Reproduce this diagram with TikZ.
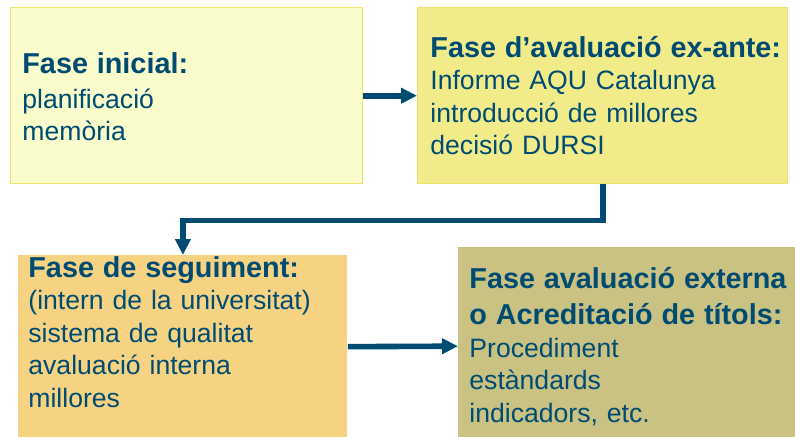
\documentclass[tikz,border=0pt]{standalone}
\usepackage{fontspec}
\setmainfont{Liberation Sans}
\usetikzlibrary{arrows.meta}

\definecolor{aqublue}{HTML}{004B72}
\definecolor{inifill}{HTML}{FAFCCC}
\definecolor{iniline}{HTML}{F0E46C}
\definecolor{exfill}{HTML}{F1EB8A}
\definecolor{exline}{HTML}{EEE06A}
\definecolor{segfill}{HTML}{F6D383}
\definecolor{extfill}{HTML}{C9C282}

\newcommand{\fasetitle}[1]{{\fontsize{14.4}{16.3}\selectfont\bfseries #1}}

\begin{document}
\begin{tikzpicture}[x=0.5pt,y=-0.5pt,
  phase/.style={rectangle, anchor=north west, inner sep=0pt},
  phasetext/.style={anchor=base west, inner sep=0pt, text width=190pt, align=left,
    text=aqublue, font=\fontsize{13.3}{16.3}\selectfont},
  flow/.style={draw=aqublue, line width=2.8pt, -{Triangle[length=8pt,width=7.5pt]}}]

\useasboundingbox (0,0) rectangle (795,436);

% the four phases
\node[phase, fill=inifill, draw=iniline, line width=0.7pt, minimum width=176pt, minimum height=88pt] (ini) at (10,7) {};
\node[phase, fill=exfill, draw=exline, line width=0.7pt, minimum width=185pt, minimum height=88pt] (exante) at (417,7) {};
\node[phase, fill=segfill, minimum width=164.5pt, minimum height=92pt] (seg) at (18,255) {};
\node[phase, fill=extfill, minimum width=171pt, minimum height=98pt] (ext) at (458,247) {};

\node[phasetext] (ini-txt) at (22,73) {\fasetitle{Fase inicial:}\\[1.2pt] planificació\\ memòria};
\node[phasetext] (exante-txt) at (430,57) {\fasetitle{Fase d’avaluació ex-ante:}\\ Informe AQU Catalunya\\ introducció de millores\\ decisió DURSI};
\node[phasetext] (seg-txt) at (28,277) {\fasetitle{Fase de seguiment:}\\ (intern de la universitat)\\ sistema de qualitat\\ avaluació interna\\ millores};
\node[phasetext] (ext-txt) at (469,288) {\fasetitle{Fase avaluació externa}\\[2pt] \fasetitle{o Acreditació de títols:}\\ Procediment\\ estàndards\\ indicadors, etc.};

\draw[flow] (ini) -- (exante);
\draw[flow] (exante.south) -- ++(0,36) -| (seg.north);
\draw[flow] (seg) -- (ext);

\end{tikzpicture}
\end{document}
